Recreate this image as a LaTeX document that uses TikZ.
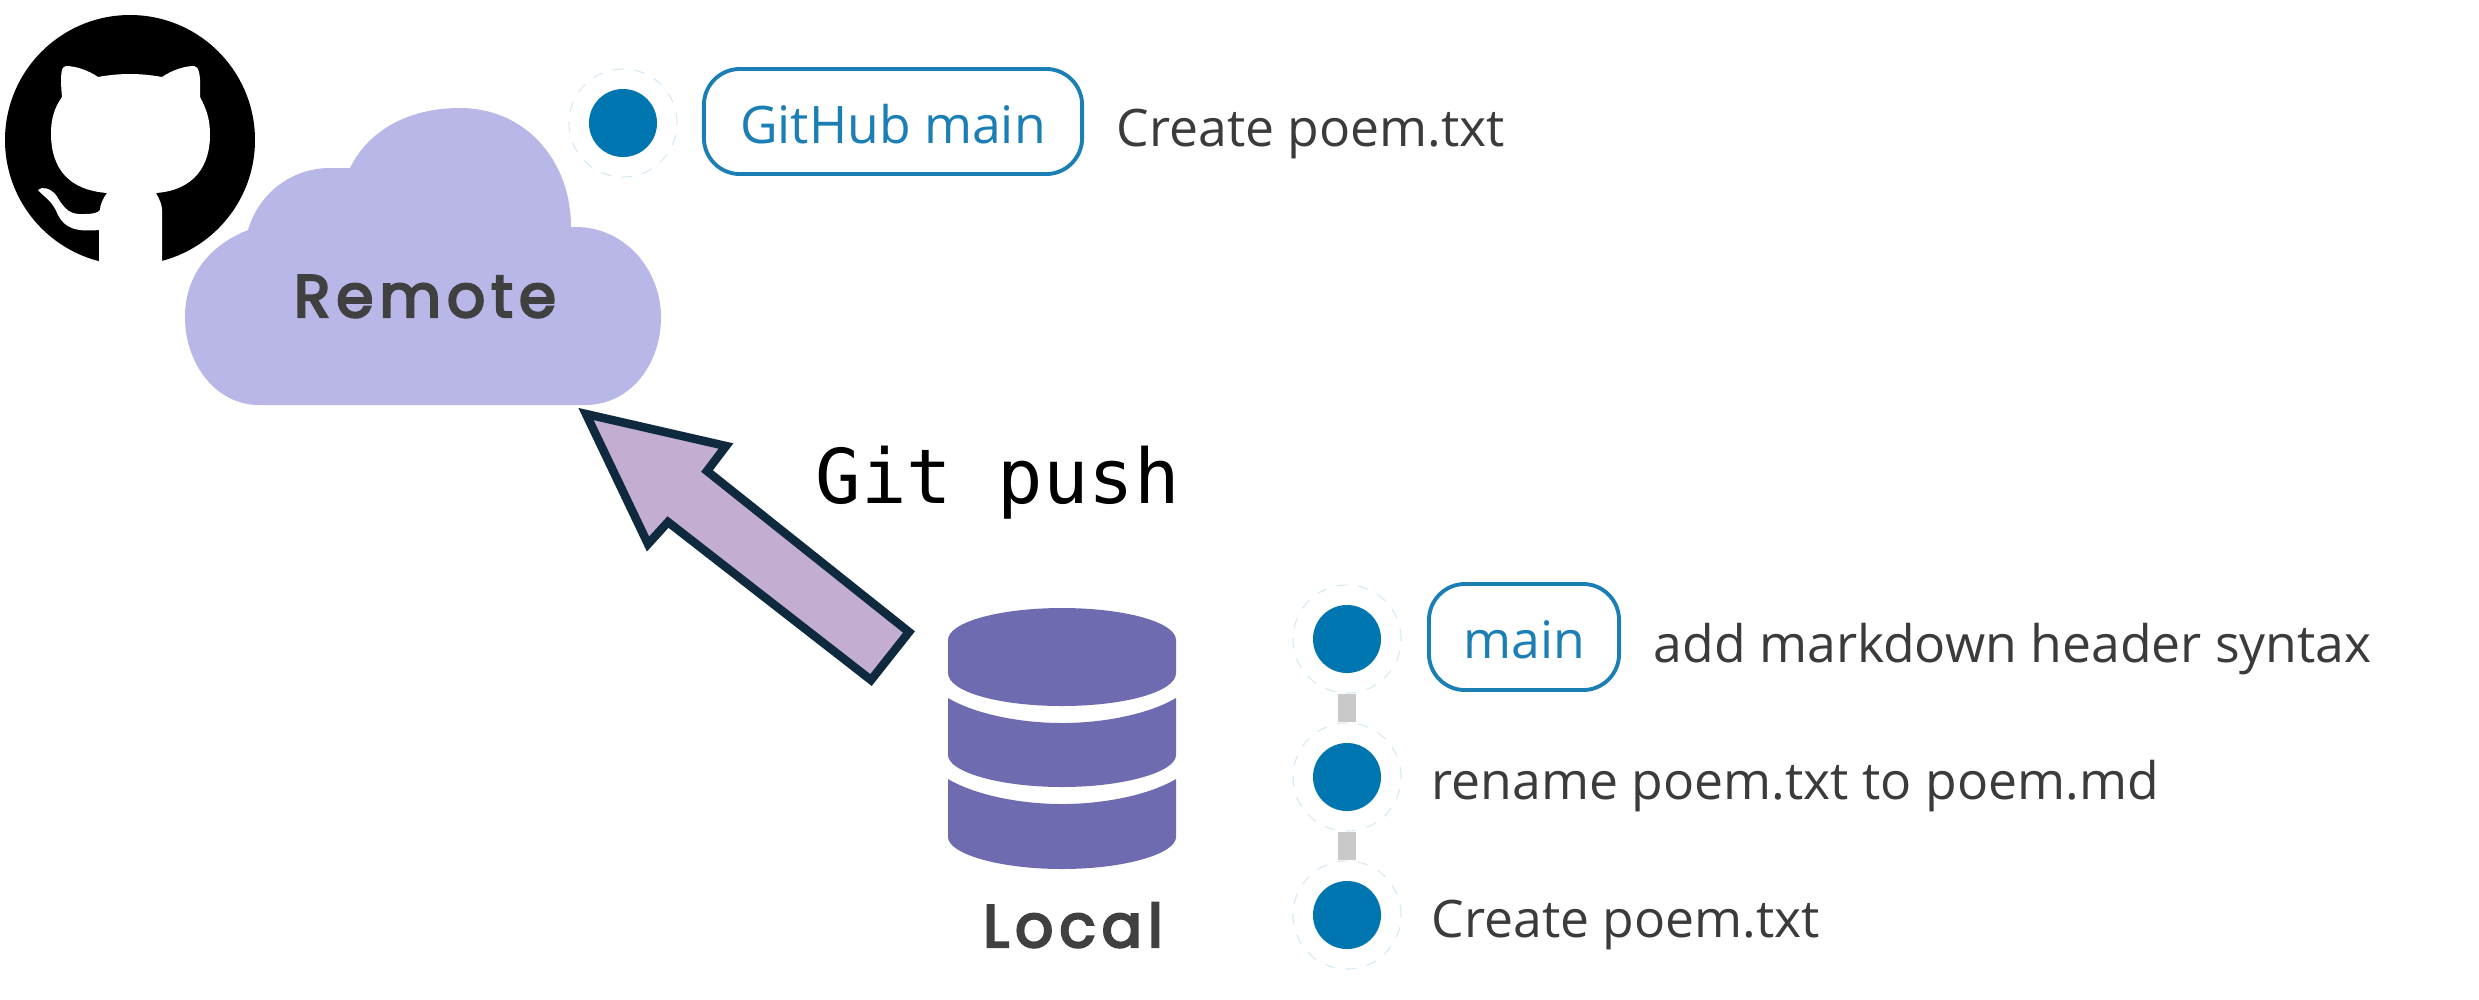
\documentclass[tikz,border=0pt]{standalone}
\usepackage{fontspec}
\usepackage{xcolor}
\setmainfont{Open Sans}
\newfontfamily\codefont{DejaVu Sans Mono}
\newfontfamily\iconfont[LetterSpace=10, FakeBold=4]{Poppins}
\definecolor{commitblue}{HTML}{0076B1}
\definecolor{ringblue}{HTML}{D5E8F3}
\definecolor{pillblue}{HTML}{1B7FB5}
\definecolor{commitgray}{HTML}{C9C9C9}
\definecolor{textgray}{HTML}{3B3B3B}
\definecolor{iconlabel}{HTML}{404040}
\definecolor{cloudfill}{HTML}{B9B7E8}
\definecolor{dbfill}{HTML}{6E6BB0}
\definecolor{pushfill}{HTML}{C3AED2}
\definecolor{pushline}{HTML}{0F2A3F}
\tikzset{
  every ring/.style={circle, draw=ringblue, fill=white, dashed, line width=0.3pt, minimum size=1.08cm, inner sep=0},
  every dot/.style={circle, fill=commitblue, minimum size=0.68cm, inner sep=0},
  every pill/.style={draw=pillblue, line width=1.1pt, rounded corners=0.36cm, text=pillblue, font=\fontsize{14.7}{17}\selectfont, text height=12.3pt, text depth=0pt, inner sep=0, anchor=center},
  every message/.style={text=textgray, font=\fontsize{14.7}{17}\selectfont, inner sep=0, anchor=base west},
  every icon label/.style={text=iconlabel, font=\iconfont\fontsize{17}{20}\selectfont, inner sep=0, anchor=base},
  commit line/.style={commitgray, line width=0.18cm}
}

\begin{document}
\begin{tikzpicture}[x=0.01cm, y=-0.01cm]

\useasboundingbox (0,0) rectangle (2479,999);

\fill [black] (130,140) circle (125);

\fill [white] (98,77) .. controls (120,73) and (140,73) .. (162,77)
  .. controls (172,70) and (185,66) .. (194,66)
  .. controls (199,66) and (201,75) .. (200,97)
  .. controls (207,110) and (210,120) .. (210,135)
  .. controls (210,165) and (195,190) .. (156,193)
  .. controls (160,200) and (162,205) .. (162,210)
  -- (162,268) -- (99,268) -- (99,230)
  .. controls (75,232) and (65,228) .. (58,215)
  .. controls (52,200) and (45,198) .. (38,190)
  .. controls (42,186) and (50,188) .. (56,195)
  .. controls (65,210) and (70,215) .. (85,214)
  .. controls (92,214) and (98,213) .. (100,210)
  .. controls (100,205) and (103,198) .. (107,193)
  .. controls (70,190) and (51,170) .. (51,133)
  .. controls (51,120) and (54,108) .. (62,97)
  .. controls (60,75) and (61,66) .. (66,66)
  .. controls (75,66) and (88,70) .. (98,77) -- cycle;

\fill [cloudfill] (259,405) -- (585,405)
  .. controls (630,405) and (661,365) .. (661,317)
  .. controls (661,270) and (625,227) .. (576,227) -- (571,227)
  .. controls (571,160) and (525,108) .. (460,108)
  .. controls (405,108) and (367,133) .. (350,168) -- (330,168)
  .. controls (290,168) and (258,195) .. (248,230)
  .. controls (210,245) and (185,275) .. (185,317)
  .. controls (185,364) and (216,405) .. (259,405) -- cycle;

\node [every icon label/.try] (remote-label) at (425,317) {Remote};

\draw [fill=pushfill, draw=pushline, line width=0.085cm, miter limit=10]
  (586,414) -- (726,446) -- (707,471) -- (909,632) -- (871,680)
  -- (668,522) -- (648,544) -- cycle;

\node [font=\codefont\fontsize{21.5}{25}\selectfont, inner sep=0, anchor=base west] (push-label) at (815,503) {Git push};

\fill [dbfill] (948,640) .. controls (948,622) and (1000,608) .. (1062,608)
  .. controls (1124,608) and (1176,622) .. (1176,640) -- (1176,673)
  .. controls (1176,692) and (1124,706) .. (1062,706)
  .. controls (1000,706) and (948,692) .. (948,673) -- cycle;

\foreach \top/\low in {698/755, 779/837}
  \fill [dbfill] (948,\top) .. controls (975,\top+16) and (1020,\top+25) .. (1062,\top+25)
    .. controls (1104,\top+25) and (1149,\top+16) .. (1176,\top) -- (1176,\low)
    .. controls (1176,\low+17) and (1124,\low+32) .. (1062,\low+32)
    .. controls (1000,\low+32) and (948,\low+17) .. (948,\low) -- cycle;

\node [every icon label/.try] (local-label) at (1073,947) {Local};

\node [every ring/.try] (ring-0) at (623,123) {};
\node [every dot/.try] (dot-0) at (ring-0.center) {};

\foreach \y in {1,2,3}
  \node [every ring/.try] (ring-\y) at (1347,501+\y*138) {};

\foreach \y in {1,2,3}
  \node [every dot/.try] (dot-\y) at (ring-\y.center) {};

\foreach \i/\j in {1/2, 2/3}
  \draw [commit line] (ring-\i) -- (ring-\j);

\node [every pill/.try, minimum width=3.78cm, minimum height=1.05cm] (pill-github) at (893,121.5) {GitHub main};
\node [every pill/.try, minimum width=1.9cm, minimum height=1.06cm] (pill-main) at (1524,637) {main};

\node [every message/.try] (message-0) at (1116,146) {Create poem.txt};
\node [every message/.try] (message-1) at (1653,662) {add markdown header syntax};
\node [every message/.try] (message-2) at (1431,799) {rename poem.txt to poem.md};
\node [every message/.try] (message-3) at (1431,937) {Create poem.txt};

\end{tikzpicture}
\end{document}
